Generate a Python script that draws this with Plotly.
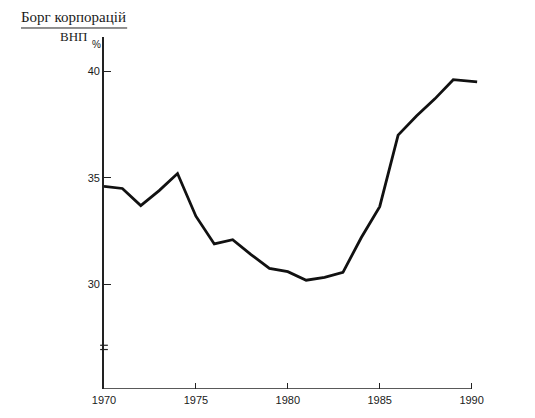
import plotly.graph_objects as go

# debt of corporations as % of GNP
years = [1970, 1971, 1972, 1973, 1974, 1975, 1976, 1977, 1978, 1979, 1980,
         1981, 1982, 1983, 1984, 1985, 1986, 1987, 1988, 1989, 1990.3]
debt_pct = [34.6, 34.5, 33.7, 34.4, 35.2, 33.2, 31.9, 32.1, 31.4, 30.75, 30.6,
            30.2, 30.33, 30.57, 32.2, 33.65, 37.0, 37.9, 38.7, 39.6, 39.5]

x_ticks = [1970, 1975, 1980, 1985, 1990]
y_ticks = [30, 35, 40]

Y_MIN, Y_MAX = 25.1, 41.6
X_MIN, X_MAX = 1970, 1991

fig = go.Figure()
fig.add_trace(go.Scatter(
    x=years, y=debt_pct, mode="lines",
    line=dict(color="#111111", width=2.8),
    hoverinfo="skip", showlegend=False,
))

tick_font = dict(family="Liberation Sans, Arial, sans-serif", size=11, color="#1a1a1a")
serif = dict(family="Liberation Serif, Times New Roman, serif", size=15, color="#1a1a1a")

fig.update_layout(
    width=535, height=418,
    margin=dict(l=104, r=45, t=37, b=29),
    paper_bgcolor="white", plot_bgcolor="white",
    xaxis=dict(
        range=[X_MIN, X_MAX], tickvals=x_ticks, ticks="inside", ticklen=6,
        tickcolor="#222222", tickwidth=1.2, showgrid=False, zeroline=False,
        showline=False, tickfont=tick_font, ticklabelstandoff=3,
    ),
    yaxis=dict(
        range=[Y_MIN, Y_MAX], tickvals=y_ticks, ticks="inside", ticklen=7,
        tickcolor="#222222", tickwidth=1.2, showgrid=False, zeroline=False,
        showline=True, linecolor="#222222", linewidth=1.6, tickfont=tick_font,
    ),
    shapes=[
        # x axis stops at 1990
        dict(type="line", xref="x", yref="y", x0=X_MIN, x1=1990, y0=Y_MIN, y1=Y_MIN,
             line=dict(color="#222222", width=1.6)),
        # axis break marks
        dict(type="line", xref="paper", yref="y", x0=-0.01, x1=0.01, y0=27.15, y1=27.15,
             line=dict(color="#222222", width=1.2)),
        dict(type="line", xref="paper", yref="y", x0=-0.01, x1=0.01, y0=26.95, y1=26.95,
             line=dict(color="#222222", width=1.2)),
        # fraction bar under the title
        dict(type="line", xref="paper", yref="paper", x0=-0.215, x1=0.06, y0=1.0256, y1=1.0256,
             line=dict(color="#222222", width=1)),
    ],
    annotations=[
        dict(text="Борг корпорацій", xref="paper", yref="paper", x=-0.078, y=1.029,
             xanchor="center", yanchor="bottom", showarrow=False, font=serif),
        dict(text="ВНП", xref="paper", yref="paper", x=-0.08, y=1.027,
             xanchor="center", yanchor="top", showarrow=False,
             font=dict(family=serif["family"], size=13, color=serif["color"])),
        dict(text="%", xref="paper", yref="paper", x=-0.019, y=0.979,
             xanchor="center", yanchor="middle", showarrow=False,
             font=dict(family=tick_font["family"], size=10, color=tick_font["color"])),
    ],
)

fig.write_html("out.html", config={"displayModeBar": False},
               post_script="document.body.style.margin='0';")
